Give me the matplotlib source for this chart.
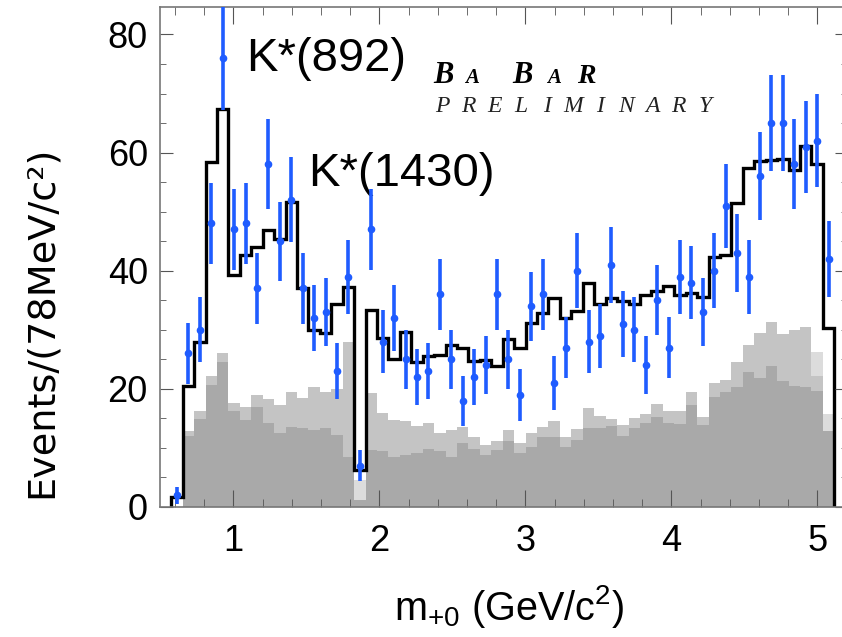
import numpy as np
import matplotlib.pyplot as plt
from matplotlib.ticker import MultipleLocator

plt.rcParams['font.family'] = ['Liberation Sans', 'DejaVu Sans']
plt.rcParams['mathtext.fontset'] = 'custom'
plt.rcParams['mathtext.rm'] = 'Liberation Sans'
plt.rcParams['mathtext.it'] = 'Liberation Sans:italic'

# binning of m_+0 (GeV/c^2), 78 MeV bins
m_lo = 0.575
bin_w = 0.0783
n_bins = 58

# observed events per bin
data_counts = [2, 26, 30, 48, 76, 47, 48, 37, 58, 45,
               52, 37, 32, 33, 23, 39, 7, 47, 28, 32,
               25, 22, 23, 36, 25, 18, 22, 24, 36, 25,
               19, 34, 36, 21, 27, 40, 28, 29, 41, 31,
               30, 24, 35, 27, 39, 38, 33, 40, 51, 43,
               39, 56, 65, 65, 58, 61, 62, 42]

# total fit
fit_total = [1.7, 20.5, 27.9, 58.4, 67.3, 39.3, 42.7, 44.1, 46.9, 45.3,
             51.6, 37.1, 30.0, 29.4, 34.4, 37.2, 6.3, 33.4, 28.6, 25.0,
             29.6, 24.6, 25.5, 25.7, 27.4, 26.9, 24.8, 24.9, 23.9, 28.5,
             27.0, 31.1, 32.8, 35.4, 32.0, 33.1, 37.9, 34.4, 35.4, 34.9,
             34.3, 35.9, 36.5, 37.5, 35.9, 36.3, 35.5, 42.4, 42.7, 51.5,
             57.4, 58.6, 58.8, 58.9, 57.0, 61.1, 58.0, 30.3]

# background components, stacked (cumulative tops)
bkg_dark = [0, 12.1, 14.9, 20.7, 24.6, 16.2, 14.7, 16.9, 14.2, 12.5,
            13.6, 13.3, 13.1, 13.3, 12.2, 8.5, 1.2, 9.7, 9.5, 8.5,
            8.8, 9.1, 9.9, 9.4, 8.5, 10.8, 9.9, 8.8, 9.7, 11.1,
            9.1, 10.2, 11.9, 11.8, 10.2, 11.4, 13.3, 13.3, 13.7, 12.0,
            13.3, 14.3, 15.2, 14.3, 14.1, 17.3, 13.9, 18.6, 19.5, 20.3,
            22.9, 21.8, 23.9, 21.4, 20.5, 20.3, 19.7, 12.9]
bkg_mid = [0, 12.9, 16.2, 22.1, 26.0, 17.6, 16.9, 19.0, 18.3, 17.3,
           19.4, 18.4, 20.4, 19.5, 20.0, 28.0, 1.2, 19.3, 15.9, 14.7,
           14.5, 13.7, 14.3, 12.5, 13.1, 13.5, 11.8, 10.5, 11.2, 13.1,
           10.9, 12.5, 13.6, 14.6, 11.9, 13.2, 16.7, 15.4, 14.9, 13.9,
           15.0, 15.8, 17.5, 16.2, 16.2, 19.4, 15.3, 21.0, 21.5, 24.6,
           27.5, 29.4, 31.4, 29.3, 30.0, 30.5, 22.2, 12.9]
bkg_light = list(bkg_mid)
bkg_light[16] = 4.6
bkg_light[56] = 26.2
bkg_light[57] = 15.8

edges = m_lo + bin_w * np.arange(n_bins + 1)
centers = edges[:-1] + bin_w / 2
counts = np.array(data_counts, dtype=float)

fig = plt.figure(figsize=(8.42, 6.37), dpi=100)
ax = fig.add_axes([160.3 / 842, 1 - 507 / 637, 686.2 / 842, 499.7 / 637])

ax.stairs(bkg_light, edges, fill=True, color='#dcdcdc', lw=0)
ax.stairs(bkg_mid, edges, fill=True, color='#c4c4c4', lw=0)
ax.stairs(bkg_dark, edges, fill=True, color='#a9a9a9', lw=0)
ax.stairs(fit_total, edges, baseline=0, color='black', lw=2.4)
ax.errorbar(centers, counts, yerr=np.sqrt(counts), fmt='o', color='#1f5cff',
            ms=4.5, elinewidth=2.6, capsize=0, zorder=5)

ax.set_xlim(0.5, 5.2)
ax.set_ylim(0, 84.6)
ax.set_xticks([1, 2, 3, 4, 5])
ax.xaxis.set_minor_locator(MultipleLocator(0.2))
ax.set_yticks([0, 20, 40, 60, 80])
ax.yaxis.set_minor_locator(MultipleLocator(5))
ax.tick_params(which='both', direction='in', top=True, right=True,
               color='#555555', labelsize=26)
ax.tick_params(axis='x', which='major', length=12, pad=12)
ax.tick_params(axis='x', which='minor', length=6)
ax.tick_params(axis='y', which='major', length=9, pad=9)
ax.tick_params(axis='y', which='minor', length=4.5)
for sp in ax.spines.values():
    sp.set_color('#777777')
    sp.set_linewidth(1.2)

ax.set_xlabel(r'm$_{+0}$ (GeV/c$^2$)', fontsize=28.5)
ax.xaxis.set_label_coords(0.508, -0.152)
ax.set_ylabel('Events/(78MeV/c²)', fontsize=27.5, family='DejaVu Sans')
ax.yaxis.set_label_coords(-0.146, 0.37)

ax.text(1.087, 73.8, 'K*(892)', fontsize=34)
ax.text(1.51, 54.3, 'K*(1430)', fontsize=34)

# BaBar logo
logo = [('B', 0.3974, 22), ('A', 0.4440, 15), ('B', 0.5125, 22),
        ('A', 0.5636, 15), ('R', 0.6073, 20)]
for ch, fx, fs in logo:
    ax.text(fx, 0.8485, ch, transform=ax.transAxes, fontsize=fs,
            family='Liberation Serif', weight='bold', style='italic')
for i, ch in enumerate('PRELIMINARY'):
    fx = (442 + 26.3 * i - 160.3) / 686.2
    ax.text(fx, 0.7905, ch, transform=ax.transAxes, fontsize=17, ha='center',
            family='Liberation Serif', style='italic', color='#222222')

fig.savefig('out.png', dpi=100)
